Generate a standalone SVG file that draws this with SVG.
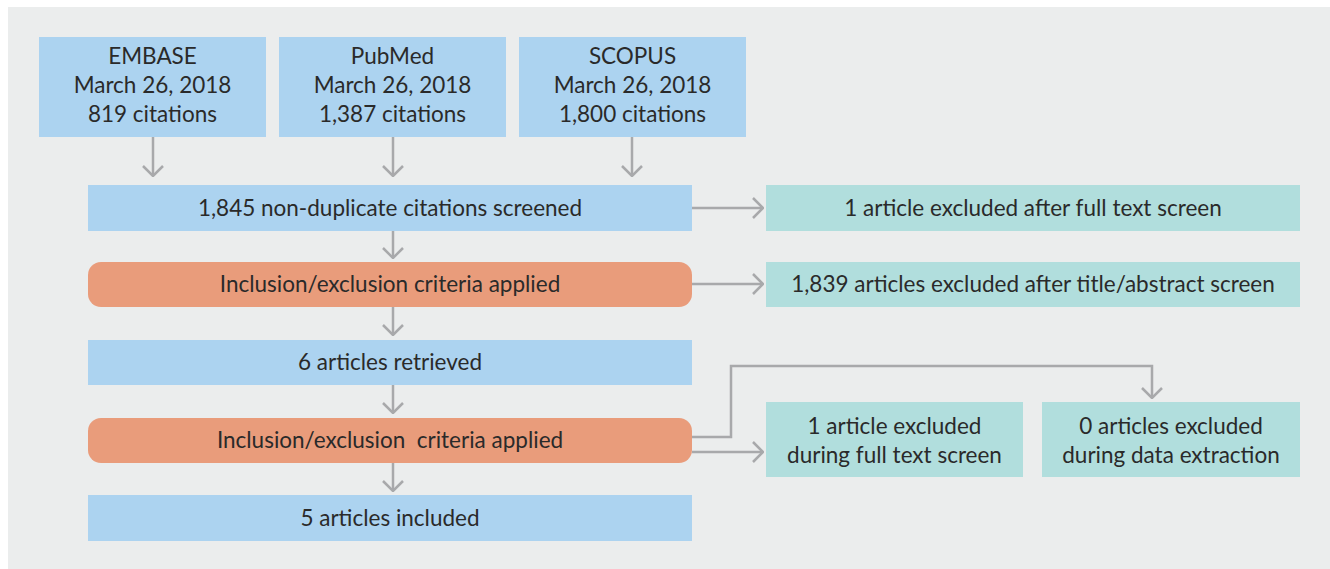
<svg xmlns="http://www.w3.org/2000/svg" width="1330" height="569" viewBox="0 0 1330 569">
<defs>
<style>
.bg{fill:#ebeded}
.blue{fill:#acd3f0}
.teal{fill:#b1dedd}
.orange{fill:#e99c7b}
text{font-family:Lato,"Liberation Sans",sans-serif;font-size:22.5px;fill:#2a2a2a;text-anchor:middle}
.c{fill:none;stroke:#a8a9ab;stroke-width:2.5}
</style>
<marker id="ah" viewBox="0 0 12 24" refX="11" refY="12" markerWidth="12" markerHeight="24" markerUnits="userSpaceOnUse" orient="auto">
<path d="M1,2 L11,12 L1,22" fill="none" stroke="#a8a9ab" stroke-width="2.5"/>
</marker>
</defs>
<rect class="bg" x="8" y="7" width="1322" height="562"/>
<g id="connectors">
<path class="c" d="M153,137 V176" marker-end="url(#ah)"/>
<path class="c" d="M393,137 V176" marker-end="url(#ah)"/>
<path class="c" d="M632,137 V176" marker-end="url(#ah)"/>
<path class="c" d="M393,231 V258" marker-end="url(#ah)"/>
<path class="c" d="M393,307 V335" marker-end="url(#ah)"/>
<path class="c" d="M393,385 V413" marker-end="url(#ah)"/>
<path class="c" d="M393,463 V491" marker-end="url(#ah)"/>
<path class="c" d="M692,208 H763" marker-end="url(#ah)"/>
<path class="c" d="M692,284 H763" marker-end="url(#ah)"/>
<path class="c" d="M692,452 H763" marker-end="url(#ah)"/>
<path class="c" d="M692,437 H731 V366 H1152 V398" marker-end="url(#ah)"/>
</g>
<g id="embase"><rect class="blue" x="39" y="37" width="227" height="100"/><text x="152.5" y="64">EMBASE</text><text x="152.5" y="93">March 26, 2018</text><text x="152.5" y="122">819 citations</text></g>
<g id="pubmed"><rect class="blue" x="279" y="37" width="227" height="100"/><text x="392.5" y="64">PubMed</text><text x="392.5" y="93">March 26, 2018</text><text x="392.5" y="122">1,387 citations</text></g>
<g id="scopus"><rect class="blue" x="519" y="37" width="227" height="100"/><text x="632.5" y="64">SCOPUS</text><text x="632.5" y="93">March 26, 2018</text><text x="632.5" y="122">1,800 citations</text></g>
<g id="screened"><rect class="blue" x="88" y="185" width="604" height="46"/><text x="390" y="216">1,845 non-duplicate citations screened</text></g>
<g id="excl-full1"><rect class="teal" x="766" y="185" width="534" height="46"/><text x="1033" y="216">1 article excluded after full text screen</text></g>
<g id="criteria1"><rect class="orange" x="88" y="262" width="604" height="45" rx="13"/><text x="390" y="292">Inclusion/exclusion criteria applied</text></g>
<g id="excl-title"><rect class="teal" x="766" y="262" width="534" height="45"/><text x="1033" y="292">1,839 articles excluded after title/abstract screen</text></g>
<g id="retrieved"><rect class="blue" x="88" y="340" width="604" height="45"/><text x="390" y="370">6 articles retrieved</text></g>
<g id="criteria2"><rect class="orange" x="88" y="418" width="604" height="45" rx="13"/><text x="390" y="448" xml:space="preserve">Inclusion/exclusion  criteria applied</text></g>
<g id="included"><rect class="blue" x="88" y="495" width="604" height="46"/><text x="390" y="526">5 articles included</text></g>
<g id="excl-full2"><rect class="teal" x="766" y="402" width="257" height="75"/><text x="894.5" y="434">1 article excluded</text><text x="894.5" y="463">during full text screen</text></g>
<g id="excl-data"><rect class="teal" x="1042" y="402" width="258" height="75"/><text x="1171" y="434">0 articles excluded</text><text x="1171" y="463">during data extraction</text></g>
</svg>
